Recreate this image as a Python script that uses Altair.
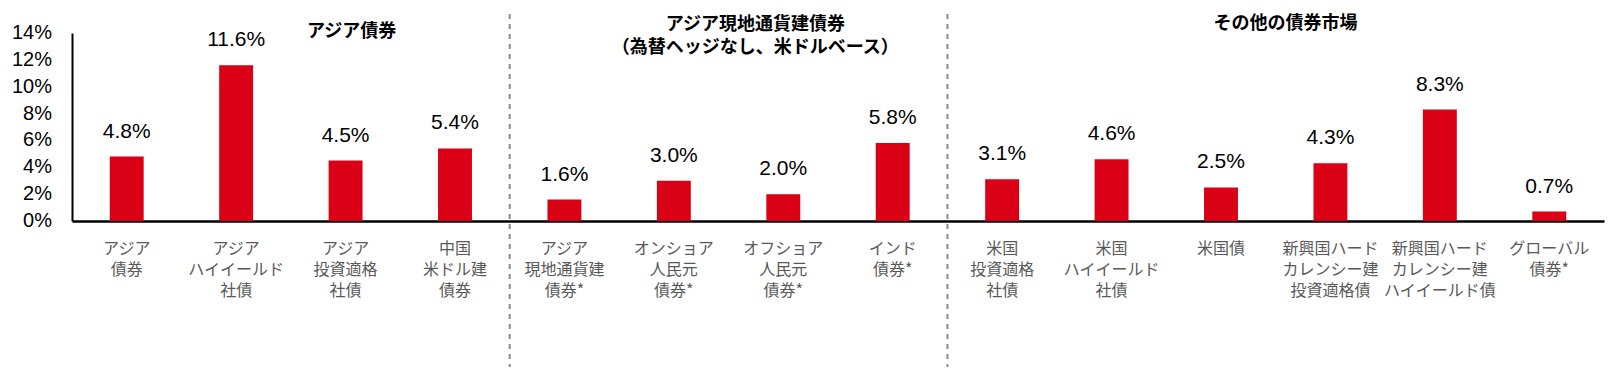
import altair as alt
import pandas as pd

categories = [
    "アジア|債券",
    "アジア|ハイイールド|社債",
    "アジア|投資適格|社債",
    "中国|米ドル建|債券",
    "アジア|現地通貨建|債券*",
    "オンショア|人民元|債券*",
    "オフショア|人民元|債券*",
    "インド|債券*",
    "米国|投資適格|社債",
    "米国|ハイイールド|社債",
    "米国債",
    "新興国ハード|カレンシー建|投資適格債",
    "新興国ハード|カレンシー建|ハイイールド債",
    "グローバル|債券*",
]
values = [4.8, 11.6, 4.5, 5.4, 1.6, 3.0, 2.0, 5.8, 3.1, 4.6, 2.5, 4.3, 8.3, 0.7]
y_ticks = [0, 2, 4, 6, 8, 10, 12, 14]

group_titles = ["アジア債券", "アジア現地通貨建債券\n（為替ヘッジなし、米ドルベース）", "その他の債券市場"]
divider_at = [categories[4], categories[8]]

df = pd.DataFrame({"cat": categories, "value": values})
tick_df = pd.DataFrame({"v": y_ticks})

W, H = 1532, 188
step = W / len(categories)

xscale = alt.Scale(domain=categories, paddingInner=0.69, paddingOuter=0.345)
yscale = alt.Scale(domain=[0, 14], nice=False)
X = alt.X("cat:N", scale=xscale, sort=categories, title=None,
          axis=alt.Axis(labelExpr="split(datum.label, '|')", labelAngle=0,
                        labelAlign="center",
                        labelFont="Noto Sans CJK JP", labelFontSize=16,
                        labelLineHeight=21, labelColor="#595959",
                        labelBaseline="top", labelPadding=19, ticks=False,
                        domainColor="#000000", domainWidth=2.5, labelLimit=300))

bars = alt.Chart(df).mark_bar(color="#DA0015").encode(
    x=X,
    y=alt.Y("value:Q", scale=yscale, title=None,
            axis=alt.Axis(values=y_ticks, labels=False, grid=False,
                          ticks=False, domainColor="#000000", domainWidth=2)),
)

ylabels = alt.Chart(tick_df).transform_calculate(
    lab="datum.v + '%'"
).mark_text(font="Liberation Sans", fontSize=20, color="#000000",
            align="right", baseline="middle").encode(
    x=alt.value(-20),
    y=alt.Y("v:Q", scale=yscale),
    text="lab:N",
)

text = alt.Chart(df).transform_calculate(
    lab="format(datum.value, '.1f') + '%'"
).mark_text(font="Liberation Sans", fontSize=21, color="#000000",
            baseline="alphabetic", dy=-19).encode(
    x=alt.X("cat:N", scale=xscale, sort=categories),
    y=alt.Y("value:Q", scale=yscale),
    text="lab:N",
)

div_df = pd.DataFrame({"cat": divider_at})
dividers = alt.Chart(div_df).mark_rule(color="#8C8C8C", strokeWidth=2,
                                       strokeDash=[5, 5], xOffset=-step / 2).encode(
    x=alt.X("cat:N", scale=xscale, sort=categories, bandPosition=0.5),
    y=alt.value(-19),
    y2=alt.value(334),
)

def title_layer(txt, anchor_cat, dx, ytop):
    d = pd.DataFrame({"cat": [anchor_cat], "t": [txt]})
    return alt.Chart(d).mark_text(font="Noto Sans CJK JP", fontWeight="bold",
                                  fontSize=18, color="#000000", baseline="top",
                                  align="center", lineBreak="\n", lineHeight=23,
                                  dx=dx).encode(
        x=alt.X("cat:N", scale=xscale, sort=categories, bandPosition=0.5),
        y=alt.value(ytop),
        text="t:N",
    )

t1 = title_layer(group_titles[0], categories[2], 6, -10)
t2 = title_layer(group_titles[1], categories[6], -28, -17)
t3 = title_layer(group_titles[2], categories[11], -45, -18)

chart = alt.layer(bars, dividers, text, ylabels, t1, t2, t3).properties(
    width=W, height=H,
    autosize=alt.AutoSizeParams(type="none"),
    padding={"left": 64, "top": 25, "right": 1, "bottom": 149},
).configure(
    background="#ffffff",
    view=alt.ViewConfig(stroke=None),
)

chart.save("out.html", embed_options={"renderer": "svg", "actions": False})
